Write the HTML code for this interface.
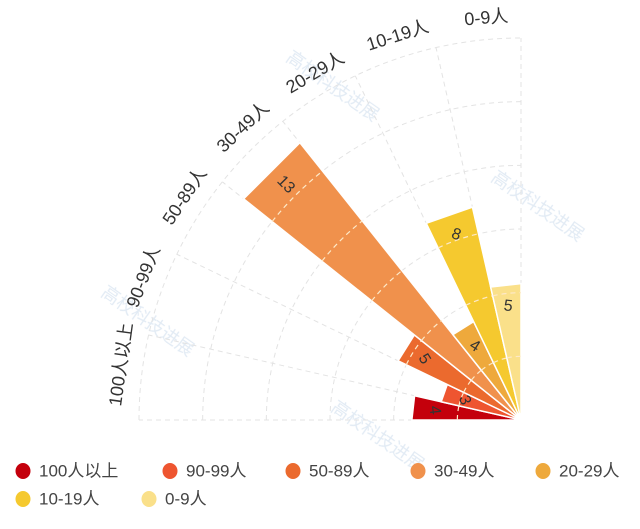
<!DOCTYPE html>
<html><head><meta charset="utf-8"><style>
html,body{margin:0;padding:0;background:#fff;}
svg{display:block;font-family:"Liberation Sans","Noto Sans CJK SC",sans-serif;}
</style></head><body>
<svg id="chart" width="640" height="529" viewBox="0 0 640 529" xmlns="http://www.w3.org/2000/svg">
<g id="wm" fill="#dbe6f2" font-size="18" opacity="0.8">
<text x="285" y="60" transform="rotate(35 285 60)">高校科技进展</text>
<text x="490" y="180" transform="rotate(35 490 180)">高校科技进展</text>
<text x="100" y="295" transform="rotate(35 100 295)">高校科技进展</text>
<text x="330" y="410" transform="rotate(35 330 410)">高校科技进展</text>
</g>
<g id="grid"></g>
<g id="bars"></g>
<g id="cats"></g>
<g id="legend"></g>
</svg>
<script>
const categories = ["100人以上","90-99人","50-89人","30-49人","20-29人","10-19人","0-9人"];
const values = [4,3,5,13,4,8,5];
const colors = ["#C4000C","#EE5530","#EB6A2E","#F0914C","#EEA93C","#F5C92F","#FAE08A"];
const radialMax = 14;
const ringCount = 6;

const NS="http://www.w3.org/2000/svg";
const cx=521, cy=420, R=382;
const n=categories.length, sw=90/n;
function rScale(v){return v/radialMax*R;}
function angOf(i){return 180 - i*sw;}
function pt(r,a){const t=a*Math.PI/180;return [cx+r*Math.cos(t), cy-r*Math.sin(t)];}
function mk(tag,attrs,parent){const e=document.createElementNS(NS,tag);for(const k in attrs)e.setAttribute(k,attrs[k]);parent.appendChild(e);return e;}

const grid=document.getElementById('grid');
for(let k=1;k<=ringCount;k++){
  const r=R*k/ringCount; const a=pt(r,180), b=pt(r,90);
  const p=mk('path',{d:`M${a[0]},${a[1]} A${r},${r} 0 0 1 ${b[0]},${b[1]}`,fill:'none',stroke:'#e3e3e3','stroke-dasharray':'5,4','stroke-width':1},grid);
  
  
}
for(let i=0;i<=n;i++){
  const b=pt(R,angOf(i));
  const l=mk('line',{x1:cx,y1:cy,x2:b[0],y2:b[1],stroke:'#e3e3e3','stroke-dasharray':'5,4','stroke-width':1},grid);
  
  
}

const bars=document.getElementById('bars');
values.forEach((v,i)=>{
  const r=rScale(v), a0=angOf(i), a1=angOf(i+1);
  const p0=pt(r,a0), p1=pt(r,a1);
  const path=mk('path',{d:`M${cx},${cy} L${p0[0]},${p0[1]} L${p1[0]},${p1[1]} Z`,fill:colors[i],stroke:'#fff','stroke-width':1.5},bars);
  
  
  for(let k=1;k<=ringCount;k++){
    const rr=R*k/ringCount; if(rr>=r-2) break;
    const q0=pt(rr,a0), q1=pt(rr,a1);
    const d=mk('path',{d:`M${q0[0]},${q0[1]} A${rr},${rr} 0 0 1 ${q1[0]},${q1[1]}`,fill:'none',stroke:'#fde9c8','stroke-dasharray':'5,4','stroke-width':1.2},bars);
    
    
  }
  const am=(a0+a1)/2, lp=pt(r-22,am);
  const t=mk('text',{x:lp[0],y:lp[1],'text-anchor':'middle','dominant-baseline':'central','font-size':16,fill:'#333',transform:`rotate(${am-90} ${lp[0]} ${lp[1]})`},bars);
  t.textContent=v;
  
  
});

const cats=document.getElementById('cats');
categories.forEach((c,i)=>{
  const am=angOf(i)-sw/2-1.5, p=pt(R+22,am);
  const t=mk('text',{x:p[0],y:p[1],'text-anchor':'middle','dominant-baseline':'central','font-size':18,fill:'#333',transform:`rotate(${-(am-90)} ${p[0]} ${p[1]})`},cats);
  t.textContent=c;
  
  
});

const legend=document.getElementById('legend');
const lpos=[[23,471],[170,471],[293,471],[418,471],[543,471],[23,499],[149,499]];
categories.forEach((c,i)=>{
  const [x,y]=lpos[i];
  const g=mk('g',{},legend);
  
  
  mk('ellipse',{cx:x,cy:y,rx:7.5,ry:8,fill:colors[i]},g);
  const t=mk('text',{x:x+16,y:y,'dominant-baseline':'central','font-size':17,fill:'#444'},g);
  t.textContent=c;
});
</script>
</body></html>
